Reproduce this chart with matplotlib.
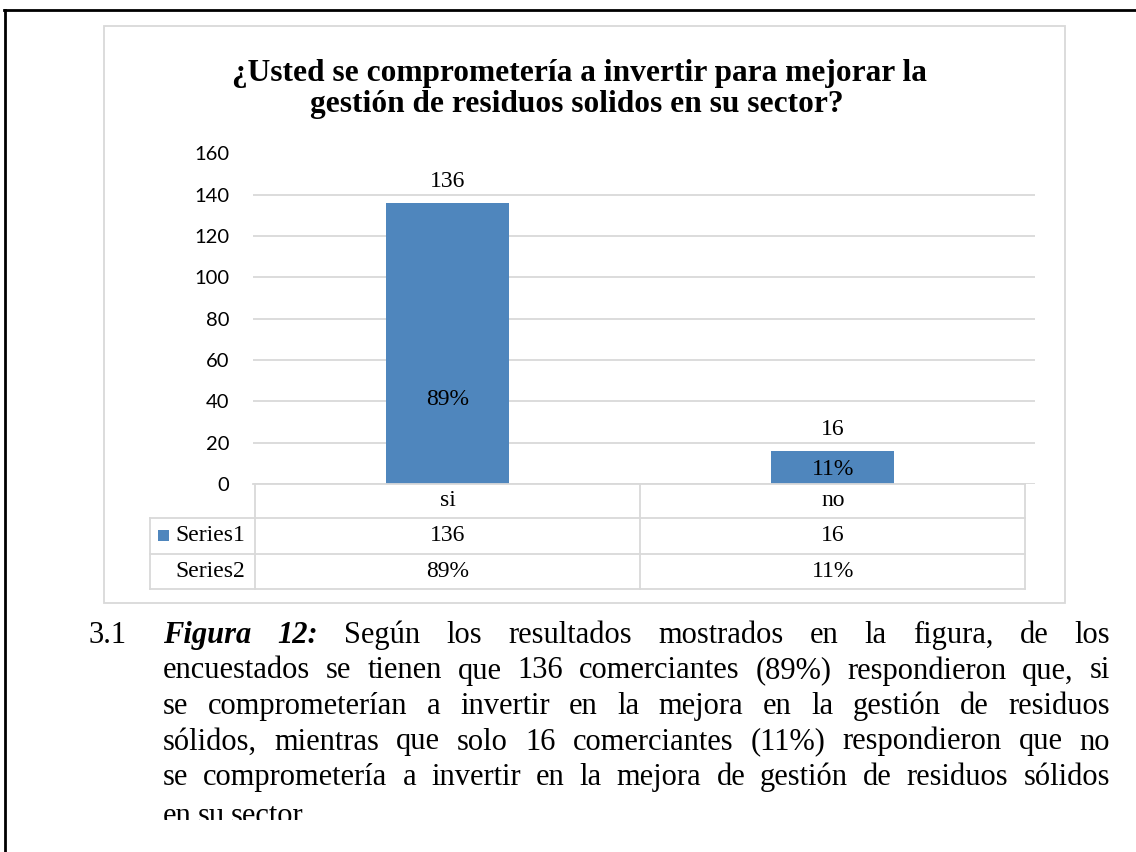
import matplotlib
matplotlib.use("Agg")
import matplotlib.pyplot as plt
from matplotlib.lines import Line2D
from matplotlib.patches import Rectangle
import matplotlib.transforms as mtransforms

# ---- data ----
categories = ["si", "no"]
counts = [136, 16]
percents = [89, 11]
series_names = ["Series1", "Series2"]
y_ticks = [0, 20, 40, 60, 80, 100, 120, 140, 160]

title_lines = [
    "¿Usted se comprometería a invertir para mejorar la",
    "gestión de residuos solidos en su sector?",
]
caption_number = "3.1"
caption_lines = [
    "Figura 12: Según los resultados mostrados en la figura, de los",
    "encuestados se tienen que 136 comerciantes (89%) respondieron que, si",
    "se comprometerían a invertir en la mejora en la gestión de residuos",
    "sólidos, mientras que solo 16 comerciantes (11%) respondieron que no",
    "se comprometería a invertir en la mejora de gestión de residuos sólidos",
    "en su sector.",
]
bold_italic_words = 2  # "Figura 12:"

BAR_COLOR = "#4f86bd"
GRID = "#d9d9d9"
SERIF = "Liberation Serif"
SANS = "Lato"
# where the percentage labels sit, as a fraction of the bar height
PCT_LABEL_FRAC = [0.30, 0.45]

W, H = 1136, 852
fig = plt.figure(figsize=(W / 100, H / 100), dpi=100)
fig.patch.set_facecolor("white")


def fx(px):
    return px / W


def fy(py):
    return 1 - py / H


def hline(x0, x1, y, color=GRID, lw=1.3, z=1):
    fig.add_artist(Line2D([fx(x0), fx(x1)], [fy(y), fy(y)], color=color, lw=lw, zorder=z))


def vline(x, y0, y1, color=GRID, lw=1.3, z=1):
    fig.add_artist(Line2D([fx(x), fx(x)], [fy(y0), fy(y1)], color=color, lw=lw, zorder=z))


# outer page frame (left / top)
hline(4, W, 10, color="black", lw=2.0)
vline(4.5, 10, H, color="black", lw=2.0)

# chart box
fig.add_artist(Rectangle((fx(104), fy(603)), fx(1065) - fx(104), fy(26) - fy(603),
                         transform=fig.transFigure, fill=False, edgecolor=GRID, lw=1.3))

# ---- bar axes ----
ax_l, ax_r, ax_t, ax_b = 253, 1035, 153.5, 484
ax = fig.add_axes([fx(ax_l), fy(ax_b), fx(ax_r) - fx(ax_l), fy(ax_t) - fy(ax_b)])
ax.set_facecolor("none")
x = list(range(len(categories)))
ax.bar(x, counts, width=0.32, color=BAR_COLOR, zorder=3)
ax.set_xlim(-0.506, 1.525)
ax.set_ylim(0, 160)
ax.set_yticks(y_ticks)
ax.set_xticks([])
ax.yaxis.grid(True, color=GRID, lw=1.3, zorder=0)
for s in ax.spines.values():
    s.set_visible(False)
ax.tick_params(axis="y", length=0, pad=17)
for lab in ax.get_yticklabels():
    lab.set_fontfamily(SANS)
    lab.set_fontsize(14.5)

for xi, c, p, fr in zip(x, counts, percents, PCT_LABEL_FRAC):
    ax.annotate(str(c), (xi, c), xytext=(0, 8), textcoords="offset points",
                ha="center", va="bottom", family=SERIF, fontsize=17)
    ax.text(xi, c * fr, f"{p}%", ha="center", va="center",
            family=SERIF, fontsize=17, zorder=4)

# ---- data table under the axes ----
row_y = [484, 518, 553.5, 589]
blend = mtransforms.blended_transform_factory(ax.transData, fig.transFigure)
col_edges = [-0.5, 0.5, 1.5]
xpix = [ax.transData.transform((e, 0))[0] for e in col_edges]
hline(ax_l, xpix[-1], row_y[0])
for ry in row_y[1:]:
    hline(150, xpix[-1], ry)
for xp in xpix:
    vline(xp, row_y[0], row_y[-1])
vline(150, row_y[1], row_y[-1])

mid = [(row_y[i] + row_y[i + 1]) / 2 for i in range(3)]
for xi, cat, c, p in zip(x, categories, counts, percents):
    fig.text(xi, fy(mid[0]), cat, transform=blend, ha="center", va="center",
             family=SERIF, fontsize=17)
    fig.text(xi, fy(mid[1]), str(c), transform=blend, ha="center", va="center",
             family=SERIF, fontsize=17)
    fig.text(xi, fy(mid[2]), f"{p}%", transform=blend, ha="center", va="center",
             family=SERIF, fontsize=17)
for name, my in zip(series_names, mid[1:]):
    fig.text(fx(245), fy(my), name, ha="right", va="center", family=SERIF, fontsize=17)
fig.add_artist(Rectangle((fx(158), fy(541)), fx(11), 11 / H, transform=fig.transFigure,
                         color=BAR_COLOR, lw=0))

# ---- title ----
fig.text(fx(579), fy(81), title_lines[0], ha="center", va="baseline",
         family=SERIF, fontweight="bold", fontsize=22.6)
fig.text(fx(577), fy(112), title_lines[1], ha="center", va="baseline",
         family=SERIF, fontweight="bold", fontsize=22.6)

# ---- justified caption ----
renderer = fig.canvas.get_renderer()
cap_size = 22
left, right = 163, 1110
baselines = [643, 678.5, 714, 749.5, 785, 824]
fig.text(fx(88), fy(baselines[0]), caption_number, va="baseline", family=SERIF,
         fontsize=cap_size)
for li, (line, by) in enumerate(zip(caption_lines, baselines)):
    words = line.split(" ")
    texts = []
    for wi, w in enumerate(words):
        bi = li == 0 and wi < bold_italic_words
        t = fig.text(0, fy(by), w, va="baseline", family=SERIF, fontsize=cap_size,
                     fontweight="bold" if bi else "normal",
                     fontstyle="italic" if bi else "normal")
        texts.append(t)
    widths = [t.get_window_extent(renderer).width for t in texts]
    if li == len(caption_lines) - 1:
        gap = 6
    else:
        gap = (right - left - sum(widths)) / (len(words) - 1)
    pos = left
    for t, wd in zip(texts, widths):
        t.set_x(fx(pos))
        pos += wd + gap

# the page cuts the last caption line
fig.add_artist(Rectangle((fx(8), 0), 1 - fx(8), fy(820), transform=fig.transFigure,
                         color="white", lw=0, zorder=10))

fig.savefig("out.png", dpi=100, facecolor="white")
